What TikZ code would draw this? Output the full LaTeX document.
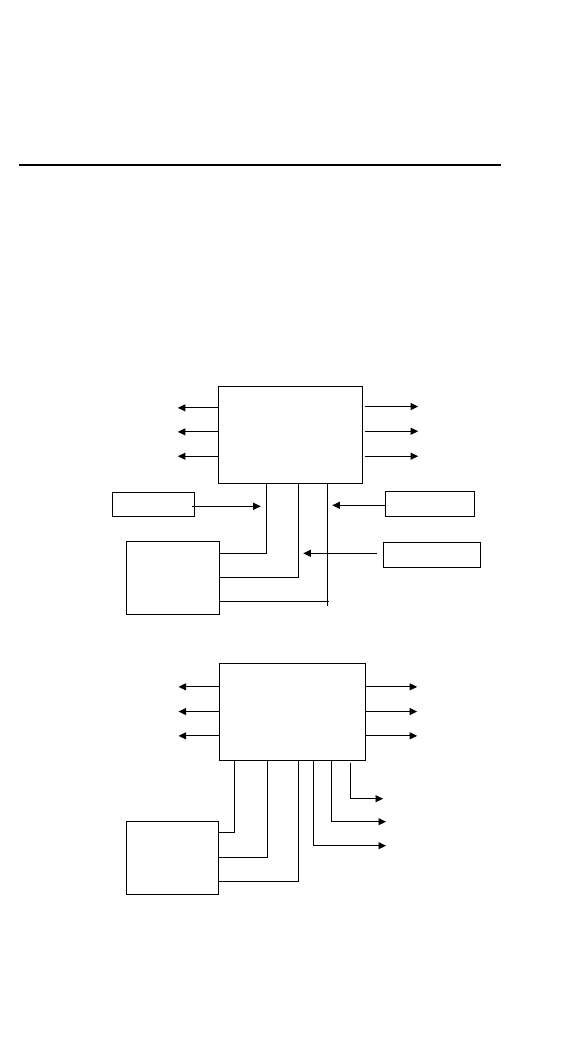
\documentclass[tikz,border=0pt]{standalone}
\usetikzlibrary{arrows.meta}
\begin{document}
\begin{tikzpicture}[x=1pt,y=-1pt,
  box/.style={draw,line width=0.9pt,inner sep=0pt,minimum width=#1},
  ln/.style={line width=0.9pt},
  arr/.style={line width=0.9pt,-{Triangle[length=7.5pt,width=7pt]}}]
\useasboundingbox (0,0) rectangle (564,1044);
% top rule
\coordinate (r1) at (19,165);
\coordinate (r2) at (501,165);
\draw[line width=1.1pt] (r1) -- (r2);

% ---------- diagram 1 ----------
\node[box=144pt,minimum height=97.3pt] (T1) at (290.3,434.65) {};
\node[box=82.4pt,minimum height=24pt] (S1) at (153.5,504.3) {};
\node[box=89.4pt,minimum height=25pt] (R1) at (430,503.8) {};
\node[box=97pt,minimum height=25pt] (R2) at (431.8,554.8) {};
\node[box=93pt,minimum height=73pt] (B1) at (172.8,577.8) {};

\foreach \dy in {22.3,46.3,70.7}
  \draw[arr] ([yshift=-\dy]T1.north west) -- ++(-40,0);
\foreach \dy in {21,45.7,70.7}
  \draw[arr] ([xshift=2,yshift=-\dy]T1.north east) -- ++(53.4,0);

\coordinate (s1e) at (260.7,506.3);
\draw[arr] ([xshift=-2.7,yshift=-2]S1.east) -- (s1e);
\coordinate (r1e) at (332.3,505.3);
\draw[arr] ([yshift=-1.5]R1.west) -- (r1e);
\coordinate (r2e) at (303.3,553.3);
\draw[arr] ([xshift=-5.6,yshift=1.5]R2.west) -- (r2e);

\draw[ln] ([xshift=48.7]T1.south west) |- ([yshift=-12.7]B1.north east);
\draw[ln] ([xshift=80.4]T1.south west) |- ([yshift=-37]B1.north east);
\draw[ln] ([xshift=110]T1.south west) -- ++(0,122);
\draw[ln] ([yshift=-60.7,xshift=-1]B1.north east) -- ++(110,0);

% ---------- diagram 2 ----------
\node[box=146pt,minimum height=97pt] (T2) at (292.3,711.8) {};
\node[box=92.4pt,minimum height=73pt] (B2) at (172.5,857.8) {};

\foreach \dy in {24,48.7,73}
  \draw[arr] ([yshift=-\dy]T2.north west) -- ++(-40.3,0);
\foreach \dy in {24,48.7,73}
  \draw[arr] ([yshift=-\dy]T2.north east) -- ++(51.4,0);

\draw[ln] ([xshift=16]T2.south west) |- ([yshift=-12]B2.north east);
\draw[ln] ([xshift=49]T2.south west) |- ([yshift=-37]B2.north east);
\draw[ln] ([xshift=79.4]T2.south west) |- ([yshift=-61]B2.north east);

\coordinate (o1) at (386,845.7);
\coordinate (o2) at (386,821.7);
\coordinate (o3) at (383,798.7);
\draw[arr] ([xshift=94.7]T2.south west) |- (o1);
\draw[arr] ([xshift=113]T2.south west) |- (o2);
\draw[arr] ([xshift=132,yshift=-2]T2.south west) |- (o3);
\end{tikzpicture}
\end{document}
